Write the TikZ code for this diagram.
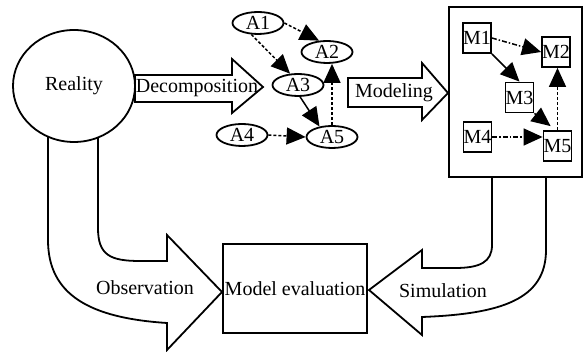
\documentclass[tikz,border=0pt]{standalone}
\usepackage{fontspec}
\setmainfont{Liberation Serif}
\usetikzlibrary{shapes.geometric,arrows.meta}
\begin{document}
\begin{tikzpicture}[x=1pt,y=-1pt,
  font=\fontsize{20}{23}\selectfont,
  outline/.style={draw=black,line width=1.8pt,line join=miter,fill=white},
  anode/.style={ellipse,draw,line width=1.8pt,fill=white,minimum width=51pt,minimum height=22pt,inner sep=0pt},
  mnode/.style={rectangle,draw,line width=1.8pt,fill=white,minimum width=28pt,minimum height=30pt,inner sep=0pt},
  headtip/.style={-{Triangle[length=19pt,width=17pt]}},
  solidlink/.style={headtip,line width=1.5pt},
  dashlink/.style={headtip,line width=1.5pt,dash pattern=on 3pt off 2pt},
  dotlink/.style={headtip,line width=1.5pt,dash pattern=on 5pt off 2pt on 1.5pt off 2pt},
  label/.style={inner sep=0pt}]
\useasboundingbox (0,0) rectangle (584,352);

% Observation: bent block arrow from Reality down to the evaluation box
\path[outline] (48,135) -- (48,240) .. controls (48,295) and (90,318) .. (167,323)
  -- (167,350) -- (222,292) -- (167,235) -- (167,261) -- (140,261)
  .. controls (110,261) and (98,255) .. (98,228) -- (98,135) -- cycle;

% Simulation: bent block arrow from the model frame back to the evaluation box
\path[outline] (492,177) -- (492,245) .. controls (492,262) and (480,268) .. (455,268)
  -- (422,268) -- (422,250) -- (369,290) -- (422,335) -- (422,317)
  .. controls (500,314) and (546,300) .. (546,250) -- (546,177) -- cycle;

% Reality
\node[ellipse,draw,line width=1.8pt,fill=white,minimum width=122pt,minimum height=112pt,inner sep=0pt] (reality) at (74,86) {Reality};

% Decomposition block arrow
\path[outline] (135,75) -- (232,75) -- (232,59) -- (263,87) -- (232,113) -- (232,102) -- (135,102) -- cycle;
\node[label] (decomp) at (197,88) {Decomposition};

% Modeling block arrow
\path[outline] (348,78) -- (422,78) -- (422,63) -- (448,93) -- (422,120) -- (422,107) -- (348,107) -- cycle;
\node[label] (modeling) at (394,93) {Modeling};

% Model evaluation
\node[rectangle,draw,line width=1.8pt,fill=white,minimum width=144pt,minimum height=89pt,inner sep=1pt] (evalbox) at (295,288.5) {Model evaluation};

\node[label] (observation) at (145,288) {Observation};
\node[label] (simulation) at (443,291) {Simulation};

% Decomposed parts A1..A5
\node[anode] (A1) at (258,23) {A1};
\node[anode] (A2) at (327,52) {A2};
\node[anode] (A3) at (298,85) {A3};
\node[anode] (A4) at (242,135) {A4};
\node[anode] (A5) at (332,137) {A5};

\draw[dashlink] (A1.east) -- (A2.125);
\draw[dashlink] (A1.-120) -- (A3.125);
\draw[dashlink] (A4.east) -- (A5.west);
\draw[dashlink] (A5.north) -- (A5.north |- A2.south);
\draw[solidlink] (A3.-80) -- (A5.140);

% Model frame with M1..M5
\node[rectangle,draw,line width=2.4pt,minimum width=133pt,minimum height=170pt,inner sep=0pt] (frame) at (515.5,92) {};

\node[mnode] (M1) at (477,38) {M1};
\node[mnode] (M2) at (556,52) {M2};
\node[mnode] (M3) at (519.5,97.5) {M3};
\node[mnode] (M4) at (477.5,137) {M4};
\node[mnode] (M5) at (557.5,146) {M5};

\draw[dotlink] (M1.east) -- (M2.west);
\draw[solidlink] (M1.south east) -- (M3.north);
\draw[dotlink] (M4.east) -- (M4.east -| M5.west);
\draw[dashlink] (M5.north) -- (M5.north |- M2.south);
\draw[solidlink] (M3.south east) -- ([xshift=8pt,yshift=4pt]M5.north west);
\end{tikzpicture}
\end{document}
